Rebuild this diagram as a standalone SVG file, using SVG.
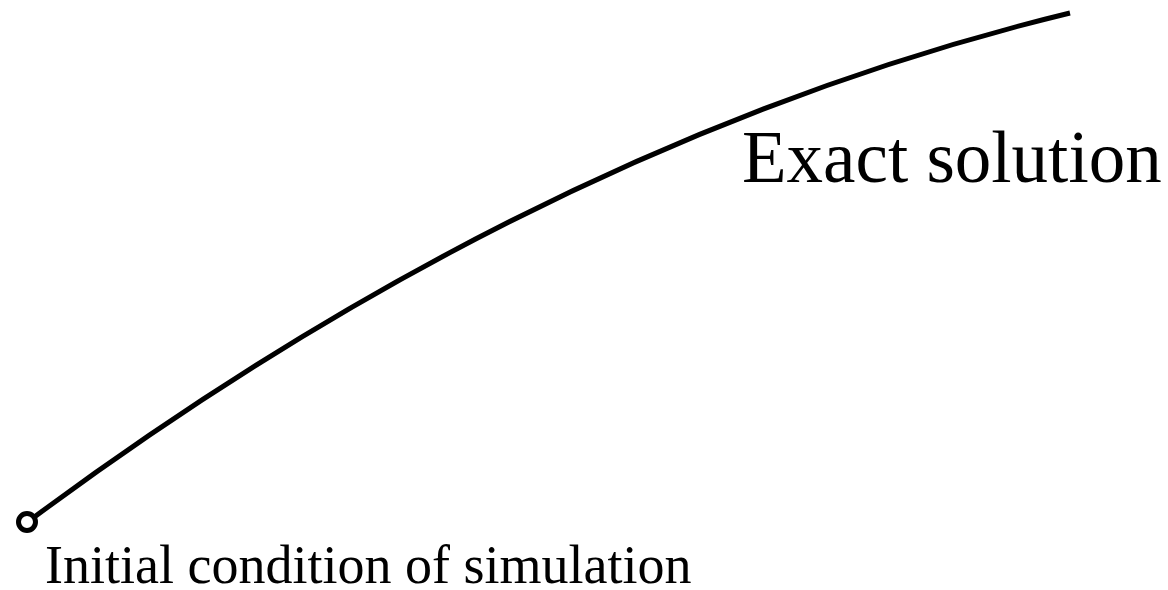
<svg xmlns="http://www.w3.org/2000/svg" width="1168" height="590" viewBox="0 0 1168 590">
<style>
.lbl{font-family:"Liberation Serif","Times New Roman",serif;fill:#000}
.ln{fill:none;stroke:#000;stroke-width:5}
</style>
<rect width="1168" height="590" fill="#fff"/>
<g id="connectors">
<path class="ln" d="M33,518 C300,320 650,115 1070,13"/>
</g>
<g id="initial">
<circle class="ln" cx="27" cy="522" r="8.5"/>
<text class="lbl" x="45" y="583" font-size="54">Initial condition of simulation</text>
</g>
<g id="exact">
<text class="lbl" x="742" y="182" font-size="73">Exact solution</text>
</g>
</svg>
